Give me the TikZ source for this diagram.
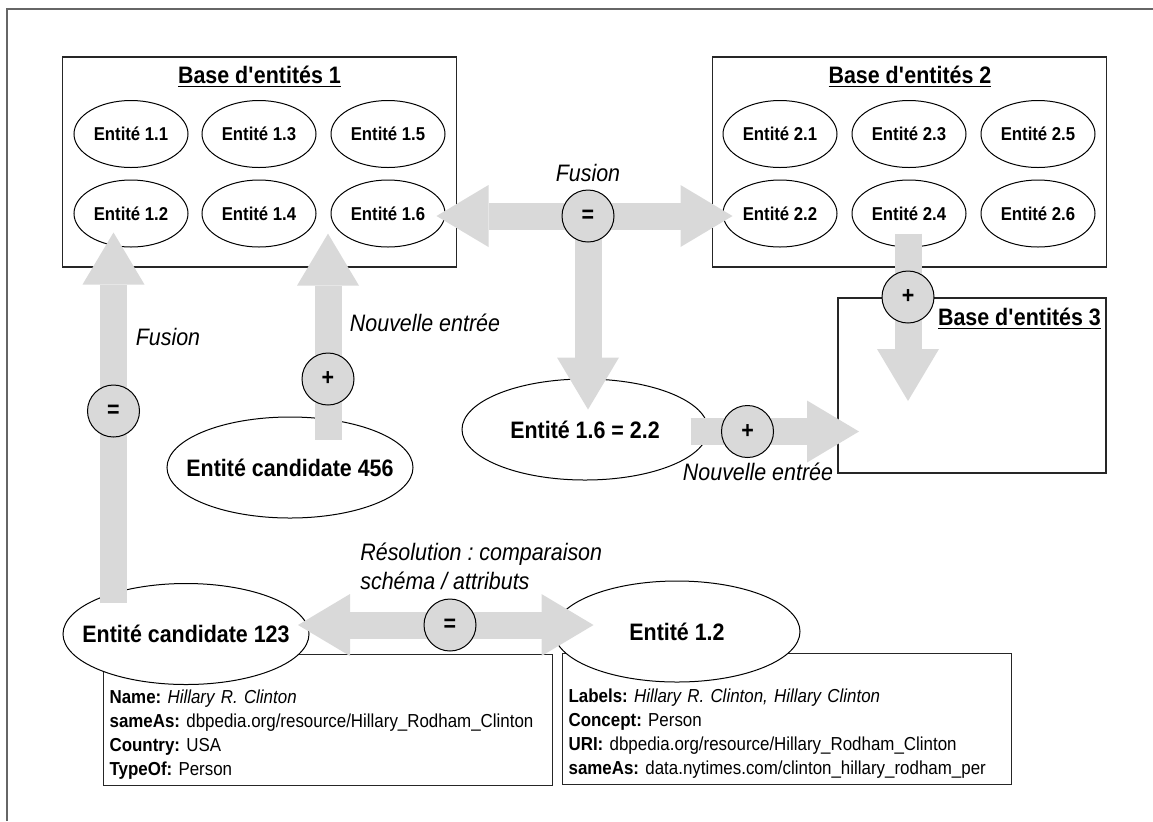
\documentclass[tikz,border=0pt]{standalone}
\usepackage{fontspec}
\setmainfont{Liberation Sans}[FakeStretch=0.9]
\usetikzlibrary{arrows.meta,shapes.geometric}
\definecolor{arrowgray}{HTML}{D9D9D9}
\frenchspacing
\tikzset{
    headtip/.tip={Triangle[width=31pt,length=26pt,line width=0pt]},
    entity/.style={draw, ellipse, fill=white, line width=0.5pt, inner sep=0pt,
    minimum width=57pt, minimum height=33.5pt,
    font=\fontsize{9.3}{11}\selectfont\bfseries},
    bigentity/.style={entity, inner xsep=-9pt, minimum width=123pt,
    minimum height=50.5pt, font=\fontsize{11.9}{14}\selectfont\bfseries},
    basebox/.style={draw=black!85, line width=0.6pt, inner sep=0pt,
    minimum width=197pt, minimum height=105pt},
    boxtitle/.style={inner sep=0pt, font=\fontsize{11.9}{14}\selectfont\bfseries},
    infobox/.style={draw=black!85, line width=0.6pt, fill=white, inner sep=3pt,
    text width=218.5pt, align=left, font=\fontsize{9.4}{12}\selectfont},
    flowlabel/.style={inner sep=0pt, font=\fontsize{11.9}{14.5}\selectfont\itshape},
    marker/.style={draw, circle, fill=arrowgray, line width=0.5pt, inner sep=0pt,
    minimum size=26pt, font=\fontsize{11.9}{14}\selectfont\bfseries},
    bigarrow/.style={draw=arrowgray, line width=13.5pt, -headtip},
    twoway/.style={draw=arrowgray, line width=13.5pt, headtip-headtip}
}
\begin{document}
\begin{tikzpicture}[x=0.5pt, y=-0.5pt]
    \useasboundingbox (0,0) rectangle (1153,821);
    \draw [black!60, line width=1pt] (7,821) -- (7,9) -- (1153,9);

    \node [basebox] (base1) at (259.5,162) {};
    \node [basebox] (base2) at (909.5,162) {};
    \node [basebox, minimum width=134pt, minimum height=87.5pt] (base3)
    at (972,385.5) {};
    \node [boxtitle] (title1) at (259.5,77) {\underline{Base d\textquotesingle entités 1}};
    \node [boxtitle] (title2) at (910,77) {\underline{Base d\textquotesingle entités 2}};
    \node [boxtitle] (title3) at (1019.5,319) {\underline{Base d\textquotesingle entités 3}};

    \node [infobox, anchor=north west] (info123) at (103,654)
    {\rule{0pt}{21.5pt}\textbf{Name:} \textit{Hillary R. Clinton}\\
    \textbf{sameAs:} dbpedia.org/resource/Hillary\_Rodham\_Clinton\\
    \textbf{Country:} USA\\
    \textbf{TypeOf:} Person};
    \node [infobox, anchor=north west] (info12) at (562,653)
    {\rule{0pt}{21.5pt}\textbf{Labels:} \textit{Hillary R. Clinton, Hillary Clinton}\\
    \textbf{Concept:} Person\\
    \textbf{URI:} dbpedia.org/resource/Hillary\_Rodham\_Clinton\\
    \textbf{sameAs:} data.nytimes.com/clinton\_hillary\_rodham\_per};

    \node [entity] (e11) at (131,134) {Entité 1.1};
    \node [entity] (e13) at (259,134) {Entité 1.3};
    \node [entity] (e15) at (388,134) {Entité 1.5};
    \node [entity] (e12) at (131,213.5) {Entité 1.2};
    \node [entity] (e14) at (259,213.5) {Entité 1.4};
    \node [entity] (e16) at (388,213.5) {Entité 1.6};
    \node [entity] (e21) at (780,134) {Entité 2.1};
    \node [entity] (e23) at (909,134) {Entité 2.3};
    \node [entity] (e25) at (1038,134) {Entité 2.5};
    \node [entity] (e22) at (780,213.5) {Entité 2.2};
    \node [entity] (e24) at (909,213.5) {Entité 2.4};
    \node [entity] (e26) at (1038,213.5) {Entité 2.6};

    \node [bigentity] (e1622) at (585,429.5) {Entité 1.6 = 2.2};
    \node [bigentity] (cand456) at (290,467.5) {Entité candidate 456};
    \node [bigentity] (cand123) at (186,634) {Entité candidate 123};
    \node [bigentity] (e12b) at (677,631.5) {Entité 1.2};

    \coordinate (cFus) at (588,216);
    \coordinate (cFus1) at (113.5,411);
    \coordinate (cNew1) at (328,379);
    \coordinate (cNew2) at (908,297);
    \coordinate (cNew3) at (747.5,431.5);
    \coordinate (cRes) at (450,625);
    \coordinate (in3n) at (908,401);
    \coordinate (in3w) at (859,431.5);

    \draw [twoway, shorten <=-4.5pt, shorten >=-5pt] (e16.east |- cFus) --
    (e22.west |- cFus);
    \draw [bigarrow, shorten >=-15.5pt] (cFus) -- (cFus |- e1622.north);
    \draw [bigarrow, shorten <=-10pt, shorten >=-7.5pt] (cFus1 |- cand123.north)
    -- (cFus1 |- e12.south);
    \draw [bigarrow, shorten <=-11.5pt, shorten >=-17pt] (cNew1 |- cand456.north)
    -- (cNew1 |- base1.south);
    \draw [bigarrow, shorten <=-7pt] (cNew2 |- e24.south) -- (in3n);
    \draw [bigarrow, shorten <=-9pt] (e1622.east |- cNew3) -- (in3w);
    \draw [twoway, shorten <=-5.75pt, shorten >=-20pt] (cand123.east |- cRes) --
    (e12b.west |- cRes);

    \node [flowlabel] (lblfus) at (588,173) {Fusion};
    \node [flowlabel] (lblfus1) at (168,337) {Fusion};
    \node [flowlabel] (lblnew1) at (425,323) {Nouvelle entrée};
    \node [flowlabel] (lblnew3) at (758,472) {Nouvelle entrée};
    \node [flowlabel, anchor=west, align=left] (lblres) at (360,566.5)
    {Résolution : comparaison\\schéma / attributs};

    \node [marker] (mFus) at (cFus) {=};
    \node [marker] (mFus1) at (cFus1) {=};
    \node [marker] (mNew1) at (cNew1) {+};
    \node [marker] (mNew2) at (cNew2) {+};
    \node [marker] (mNew3) at (cNew3) {+};
    \node [marker] (mRes) at (cRes) {=};
\end{tikzpicture}
\end{document}
